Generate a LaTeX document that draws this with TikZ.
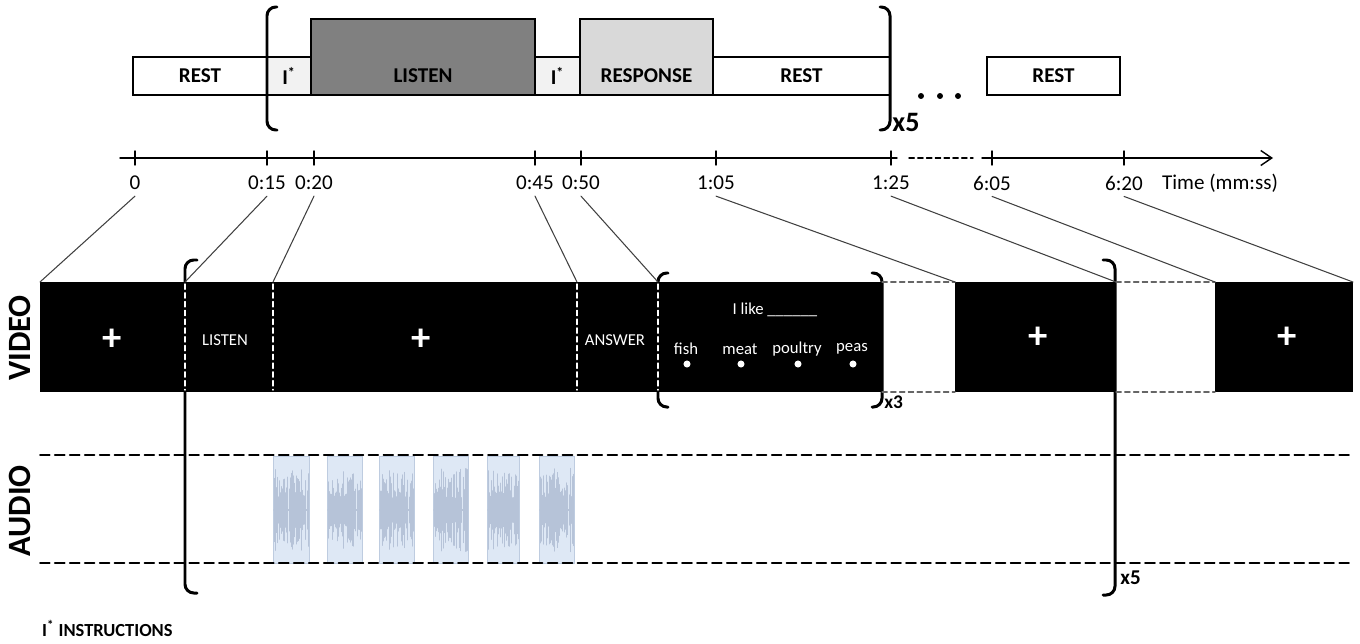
\documentclass[tikz,border=0pt]{standalone}
\usepackage{fontspec}
\setmainfont{Carlito}
\usepackage{tikz}
\usetikzlibrary{arrows.meta}
\definecolor{clipfill}{RGB}{222,232,245}
\definecolor{clipedge}{RGB}{190,204,224}
\definecolor{wave}{RGB}{182,195,216}

\begin{document}
\begin{tikzpicture}[x=0.02cm,y=-0.02cm,line cap=round,>={Straight Barb[length=2.2mm,width=3mm]},
  seg/.style 2 args={draw,line width=1.2pt,inner sep=0pt,outer sep=0pt,anchor=south west,
    minimum width=#1*0.02cm,minimum height=#2*0.02cm,font=\fontsize{12}{14}\selectfont\bfseries},
  tall/.style={label={[font=\fontsize{12}{14}\selectfont\bfseries,yshift=-0.38cm]center:#1}},
  tick/.style={font=\fontsize{12}{14}\selectfont},
  link/.style={black!75,line width=0.6pt},
  brk/.style={line width=1.7pt,rounded corners=5pt},
  vid/.style={fill=black,inner sep=0pt,outer sep=0pt,anchor=south west,minimum width=#1*0.02cm,minimum height=110*0.02cm},
  scr/.style={text=white,font=\fontsize{9.5}{11}\selectfont},
  cross/.style={text=white,font=\fontsize{22}{22}\selectfont\bfseries},
  divider/.style={white,line width=0.8pt,dash pattern=on 3pt off 2pt},
  gap/.style={black!60,line width=0.7pt,dash pattern=on 3pt off 2pt},
  track/.style={line width=1.1pt,dash pattern=on 5.5pt off 3pt},
  wavebox/.style={draw=clipedge,fill=clipfill,line width=0.5pt,inner sep=0pt,outer sep=0pt,anchor=south west,
    minimum width=(#1)*0.02cm,minimum height=107*0.02cm},
  rep/.style={font=\fontsize{#1}{#1}\selectfont\bfseries,anchor=west,inner sep=0pt},
  side/.style={rotate=90,font=\fontsize{18.5}{18.5}\selectfont\bfseries}]
\useasboundingbox (0,0) rectangle (1360,643);

\node[seg={134}{38}] (rest1) at (133,95) {REST};
\node[seg={44}{38},fill=black!5] (ins1) at (rest1.south east) {I\textsuperscript{*}};
\node[seg={224}{76},fill=black!50,tall=LISTEN] (listen) at (ins1.south east) {};
\node[seg={45}{38},fill=black!5] (ins2) at (listen.south east) {I\textsuperscript{*}};
\node[seg={133}{76},fill=black!15,tall=RESPONSE] (resp) at (ins2.south east) {};
\node[seg={177}{38}] (rest2) at (resp.south east) {REST};
\node[seg={133}{38}] (rest3) at (987,95) {REST};
\draw[brk] (277,7) -- (267,7) -- (267,130) -- (277,130);
\draw[brk] (880,7) -- (890,7) -- (890,130) -- (880,130);
\node[rep=16] (rep5) at (892,122) {x5};
\foreach \x in {921,940,958} \fill (\x,96) circle (1.7pt);

\draw[line width=0.8pt] (120,158) -- (897,158);
\draw[line width=0.8pt,dash pattern=on 3pt off 2pt] (909,158) -- (973,158);
\draw[line width=0.8pt,->] (982,158) -- (1273,158);
\foreach \x/\t/\n in {135/0/t000,267/0:15/t015,314/0:20/t020,535/0:45/t045,581/0:50/t050,
    716/1:05/t105,891/1:25/t125,992/6:05/t605,1124/6:20/t620} {
  \draw[line width=0.8pt] (\x,151) -- (\x,165);
  \node[tick] (\n) at (\x,183) {\t};
}
\node[tick] (unit) at (1220,183) {Time (mm:ss)};

\draw[brk] (197,260) -- (185,260) -- (185,593) -- (197,593);
\draw[brk] (1103,260) -- (1115,260) -- (1115,595) -- (1103,595);
\draw[brk] (668,273) -- (658,273) -- (658,407) -- (668,407);
\draw[brk] (872,273) -- (882,273) -- (882,407) -- (872,407);

\node[vid=842] (vid1) at (40,392) {};
\node[vid=161] (vid2) at (955,392) {};
\node[vid=138] (vid3) at (1215,392) {};
\draw[gap] (vid1.north east) -- (vid2.north west);
\draw[gap] (vid1.south east) -- (vid2.south west);
\draw[gap] (vid2.north east) -- (vid3.north west);
\draw[gap] (vid2.south east) -- (vid3.south west);
\foreach \x in {185,273,577,658} \draw[divider] (\x,284) -- (\x,390);
\coordinate (v015) at (185,282);
\coordinate (v020) at (273,282);
\coordinate (v045) at (577,282);
\coordinate (v050) at (658,282);

\draw[link] (t000.south) -- (vid1.north west);
\draw[link] (t015.south) -- (v015);
\draw[link] (t020.south) -- (v020);
\draw[link] (t045.south) -- (v045);
\draw[link] (t050.south) -- (v050);
\draw[link] (t105.south) -- (vid2.north west);
\draw[link] (t125.south) -- (vid2.north east);
\draw[link] (t605.south) -- (vid3.north west);
\draw[link] (t620.south) -- (vid3.north east);

\node[cross] (fix1) at (112,340) {+};
\node[scr] (cue1) at (225,340) {LISTEN};
\node[cross] (fix2) at (421,340) {+};
\node[scr] (cue2) at (615,340) {ANSWER};
\node[scr] (prompt) at (775,310) {I like \_\_\_\_\_\_};
\foreach \x/\w in {686/fish,740/meat,797/poultry,852/peas} {
  \node[scr] (opt-\w) at (\x,349) {\w};
  \fill[white] (\x+1,364) circle (2pt);
}
\node[cross] (fix3) at (1038,338) {+};
\node[cross] (fix4) at (1287,338) {+};
\node[rep=11] (rep3) at (884,402) {x3};
\node[rep=12] (rep5b) at (1120,578) {x5};

\node[side] (lvideo) at (20,338) {VIDEO};
\node[side] (laudio) at (20,511) {AUDIO};

\pgfmathsetseed{11}
\foreach \a/\b [count=\i] in {273/309,327/362,379/414,433/468,487/519,539/574} {
  \node[wavebox=\b-\a] (clip\i) at (\a,563) {};
  \foreach \k in {1,...,33} {
    \pgfmathsetmacro\xx{\a+\k*(\b-\a)/34}
    \pgfmathsetmacro\hh{12+rnd*30}
    \draw[wave,line width=0.4pt] (\xx,510-\hh) -- (\xx,510+\hh);
  }
  \draw[wave,line width=0.8pt] (\a+1,510) -- (\b-1,510);
}
\draw[track] (40,455) -- (1352,455);
\draw[track] (40,563) -- (1352,563);

\node[font=\fontsize{10.5}{12}\selectfont\bfseries,anchor=west] (note) at (36,628) {I\textsuperscript{*} INSTRUCTIONS};
\end{tikzpicture}
\end{document}
